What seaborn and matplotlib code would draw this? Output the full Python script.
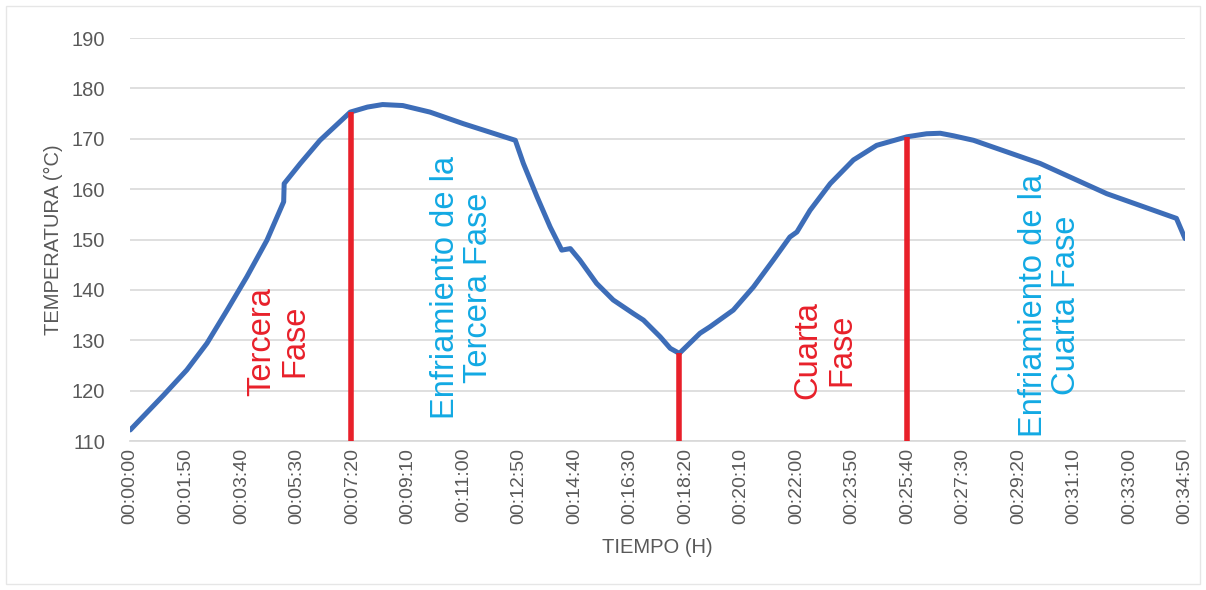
import numpy as np
import pandas as pd
import matplotlib
matplotlib.use("Agg")
import matplotlib.pyplot as plt
import seaborn as sns

# ==================== 数据 ====================
tiempo_s = [0, 66, 112, 152, 192, 231, 271, 304, 305, 337, 376, 436, 470, 500,
            540, 594, 660, 763, 779, 806, 832, 855, 872, 891, 924, 957, 997,
            1017, 1050, 1070, 1088, 1129, 1149, 1195, 1235, 1274, 1307, 1321,
            1347, 1387, 1433, 1479, 1539, 1578, 1605, 1631, 1671, 1803, 1935,
            2073, 2090]
temperatura = [112.2, 119.1, 124.1, 129.4, 136.0, 142.6, 149.9, 157.5, 161.1,
               165.1, 169.7, 175.3, 176.3, 176.8, 176.6, 175.3, 173.0, 169.7,
               165.1, 158.5, 152.5, 147.9, 148.2, 145.9, 141.3, 138.0, 135.3,
               134.0, 130.7, 128.4, 127.4, 131.4, 132.7, 136.0, 140.6, 145.9,
               150.5, 151.5, 155.8, 161.1, 165.8, 168.7, 170.4, 171.0, 171.1,
               170.6, 169.7, 165.1, 159.1, 154.2, 150.2]

# 阶段分界线 (秒, 顶端温度)
limites_s = [438, 1088, 1540]
limites_top = [175.3, 127.4, 170.4]

# 注释文字
etiquetas_x = [293, 657, 1376, 1823]
etiquetas_y = [129.8, 140.4, 128.1, 137.0]
etiquetas_txt = ["Tercera\nFase", "Enfriamiento de la\nTercera Fase",
                 "Cuarta\nFase", "Enfriamiento de la\nCuarta Fase"]
etiquetas_col = ["#E8202A", "#12A9E3", "#E8202A", "#12A9E3"]

tick_s = list(range(0, 2091, 110))

df = pd.DataFrame({"t": tiempo_s, "T": temperatura})

# ==================== 绘图 ====================
sns.set_theme(style="white")
plt.rcParams['font.family'] = ['Liberation Sans', 'DejaVu Sans']

fig = plt.figure(figsize=(12.06, 5.90), dpi=100)
ax = fig.add_axes([0.108, 0.2525, 0.8746, 0.683])

gris = "#595959"
for yv in range(110, 191, 10):
    ax.axhline(yv, color="#D9D9D9", lw=1.2, zorder=0)

sns.lineplot(data=df, x="t", y="T", ax=ax, color="#3D6DB8", lw=3.6, zorder=3)

for xs, top in zip(limites_s, limites_top):
    ax.plot([xs, xs], [110, top], color="#E8202A", lw=4.0, zorder=4,
            solid_capstyle="butt")

for x, y, txt, col in zip(etiquetas_x, etiquetas_y, etiquetas_txt, etiquetas_col):
    ax.text(x, y, txt, rotation=90, color=col, fontsize=23.5, ha="center",
            va="center", multialignment="center", linespacing=1.1, zorder=5)

ax.set_xlim(0, 2090)
ax.set_ylim(110, 190)
ax.set_yticks(range(110, 191, 10))
ax.set_xticks(tick_s)
ax.set_xticklabels([f"{s // 3600:02d}:{(s % 3600) // 60:02d}:{s % 60:02d}" for s in tick_s],
                   rotation=90, fontsize=14)
ax.tick_params(axis="y", labelsize=14.5, colors=gris, length=0, pad=18)
ax.tick_params(axis="x", colors=gris, length=0, pad=5)

for sp in ["top", "right", "left"]:
    ax.spines[sp].set_visible(False)
ax.spines["bottom"].set_color("#D9D9D9")

ax.set_xlabel("TIEMPO (H)", fontsize=14.5, color=gris, labelpad=10)
ax.set_ylabel("TEMPERATURA (°C)", fontsize=14.5, color=gris, labelpad=6)

fig.patches.append(plt.Rectangle((0.005, 0.01), 0.99, 0.98, transform=fig.transFigure,
                                 fill=False, edgecolor="#E6E6E6", lw=1))

plt.savefig("out.png", dpi=100)
plt.close()
